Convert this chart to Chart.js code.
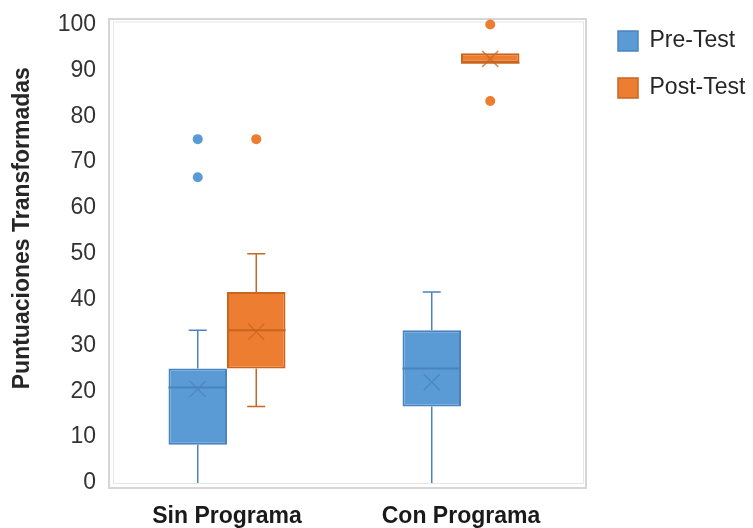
<!DOCTYPE html>
<html>
<head>
<meta charset="utf-8">
<script src="https://cdn.jsdelivr.net/npm/chart.js@4/dist/chart.umd.min.js"></script>
<style>
  html, body { margin: 0; padding: 0; background: #fff; }
  #wrap { width: 753px; height: 528px; }
</style>
</head>
<body>
<div id="wrap"><canvas id="myChart"></canvas></div>
<script>
// datos
const categories = ['Sin Programa', 'Con Programa'];
const yTicks = [0, 10, 20, 30, 40, 50, 60, 70, 80, 90, 100];

const preMin = [0, 0];
const preQ1 = [8.33, 16.67];
const preMedian = [20.83, 25];
const preQ3 = [25, 33.33];
const preMax = [33.33, 41.67];
const preMean = [20.5, 22];
const preOutliers = [[75, 66.67], []];

const postMin = [16.67, 91.67];
const postQ1 = [25, 91.67];
const postMedian = [33.33, 91.67];
const postQ3 = [41.67, 93.75];
const postMax = [50, 93.75];
const postMean = [33, 92.5];
const postOutliers = [[75], [100, 83.33]];

const FONT = "'Liberation Sans', Arial, sans-serif";

const stats = [
    { min: preMin, q1: preQ1, med: preMedian, q3: preQ3, max: preMax, mean: preMean, out: preOutliers, line: '#4A84BF', dot: '#5B9BD5' },
    { min: postMin, q1: postQ1, med: postMedian, q3: postQ3, max: postMax, mean: postMean, out: postOutliers, line: '#C8661F', dot: '#ED7D31' }
];

// marco del area de grafico
const framePlugin = {
    id: 'frame',
    beforeDraw(chart) {
        const { ctx, chartArea: a } = chart;
        ctx.save();
        ctx.strokeStyle = '#d6d6d6';
        ctx.lineWidth = 2;
        ctx.strokeRect(a.left - 1, a.top - 5.5, a.right - a.left + 9, a.bottom - a.top + 10.5);
        ctx.strokeStyle = '#e6e6e6';
        ctx.lineWidth = 1;
        ctx.strokeRect(a.left + 3.5, a.top - 2.5, a.right - a.left + 2, a.bottom - a.top + 3);
        ctx.restore();
    }
};

// bigotes, mediana, media y atipicos
const boxPlugin = {
    id: 'boxExtras',
    afterDatasetsDraw(chart) {
        const { ctx } = chart;
        const y = chart.scales.y;
        stats.forEach((s, d) => {
            const meta = chart.getDatasetMeta(d);
            meta.data.forEach((bar, i) => {
                const x = bar.x;
                const w = bar.width;
                ctx.save();
                ctx.strokeStyle = s.line;
                ctx.lineWidth = 1.5;
                ctx.beginPath();
                if (s.max[i] > s.q3[i]) {
                    ctx.moveTo(x, y.getPixelForValue(s.q3[i]));
                    ctx.lineTo(x, y.getPixelForValue(s.max[i]));
                    ctx.moveTo(x - 9, y.getPixelForValue(s.max[i]));
                    ctx.lineTo(x + 9, y.getPixelForValue(s.max[i]));
                }
                if (s.min[i] < s.q1[i]) {
                    ctx.moveTo(x, y.getPixelForValue(s.q1[i]));
                    ctx.lineTo(x, y.getPixelForValue(s.min[i]));
                    if (s.min[i] > 0) {
                        ctx.moveTo(x - 9, y.getPixelForValue(s.min[i]));
                        ctx.lineTo(x + 9, y.getPixelForValue(s.min[i]));
                    }
                }
                ctx.stroke();

                // mediana
                ctx.lineWidth = 2;
                ctx.beginPath();
                const ym = y.getPixelForValue(s.med[i]);
                ctx.moveTo(x - w / 2, ym);
                ctx.lineTo(x + w / 2, ym);
                ctx.stroke();

                // media (X)
                const yx = y.getPixelForValue(s.mean[i]);
                ctx.lineWidth = 1.5;
                ctx.globalAlpha = 0.75;
                ctx.beginPath();
                ctx.moveTo(x - 8, yx - 8);
                ctx.lineTo(x + 8, yx + 8);
                ctx.moveTo(x + 8, yx - 8);
                ctx.lineTo(x - 8, yx + 8);
                ctx.stroke();
                ctx.globalAlpha = 1;

                // atipicos
                ctx.fillStyle = s.dot;
                s.out[i].forEach(v => {
                    ctx.beginPath();
                    ctx.arc(x, y.getPixelForValue(v), 5, 0, Math.PI * 2);
                    ctx.fill();
                });
                ctx.restore();
            });
        });
    }
};

const data = {
    labels: categories,
    datasets: [
        {
            label: 'Pre-Test',
            data: categories.map((c, i) => [preQ1[i], preQ3[i]]),
            backgroundColor: '#5B9BD5',
            borderColor: '#4A84BF',
            borderWidth: 2,
            borderSkipped: false,
            categoryPercentage: 0.5,
            barPercentage: 1
        },
        {
            label: 'Post-Test',
            data: categories.map((c, i) => [postQ1[i], postQ3[i]]),
            backgroundColor: '#ED7D31',
            borderColor: '#C8661F',
            borderWidth: 2,
            borderSkipped: false,
            categoryPercentage: 0.5,
            barPercentage: 1
        }
    ]
};

const config = {
    type: 'bar',
    data: data,
    plugins: [framePlugin, boxPlugin],
    options: {
        responsive: true,
        maintainAspectRatio: false,
        animation: false,
        layout: { padding: { top: 24.5, left: 0, right: 0, bottom: 0 } },
        plugins: {
            tooltip: { enabled: false },
            legend: {
                position: 'right',
                align: 'start',
                fullSize: false,
                maxWidth: 140,
                labels: {
                    boxWidth: 20,
                    boxHeight: 20,
                    padding: 5,
                    color: '#262626',
                    font: { family: FONT, size: 23, lineHeight: 1.826 },
                    generateLabels(chart) {
                        const items = Chart.defaults.plugins.legend.labels.generateLabels(chart);
                        items.forEach(it => { it.text = [it.text]; it.lineWidth = 1.5; });
                        return items;
                    }
                }
            }
        },
        scales: {
            x: {
                grid: { display: false, drawTicks: false },
                border: { display: false },
                ticks: {
                    color: '#1a1a1a',
                    padding: 22,
                    font: { family: FONT, size: 23, weight: 'bold', lineHeight: 1 }
                },
                afterFit(scale) { scale.height = 45; }
            },
            y: {
                min: 0,
                max: 100,
                afterBuildTicks(scale) { scale.ticks = yTicks.map(v => ({ value: v })); },
                grid: { display: false, drawTicks: false },
                border: { display: false },
                ticks: {
                    color: '#333333',
                    padding: 14,
                    font: { family: FONT, size: 23, lineHeight: 0.8 }
                },
                title: {
                    display: true,
                    text: '        Puntuaciones Transformadas',
                    color: '#262626',
                    padding: { top: 9, bottom: 21 },
                    font: { family: FONT, size: 23, weight: 'bold' }
                },
                afterFit(scale) { scale.width = 110; }
            },
            gap: {
                type: 'linear',
                position: 'right',
                grid: { display: false, drawTicks: false },
                border: { display: false },
                ticks: { display: false },
                afterFit(scale) { scale.width = 35; }
            }
        }
    }
};

let myChart = new Chart(document.getElementById('myChart'), config);
</script>
</body>
</html>
